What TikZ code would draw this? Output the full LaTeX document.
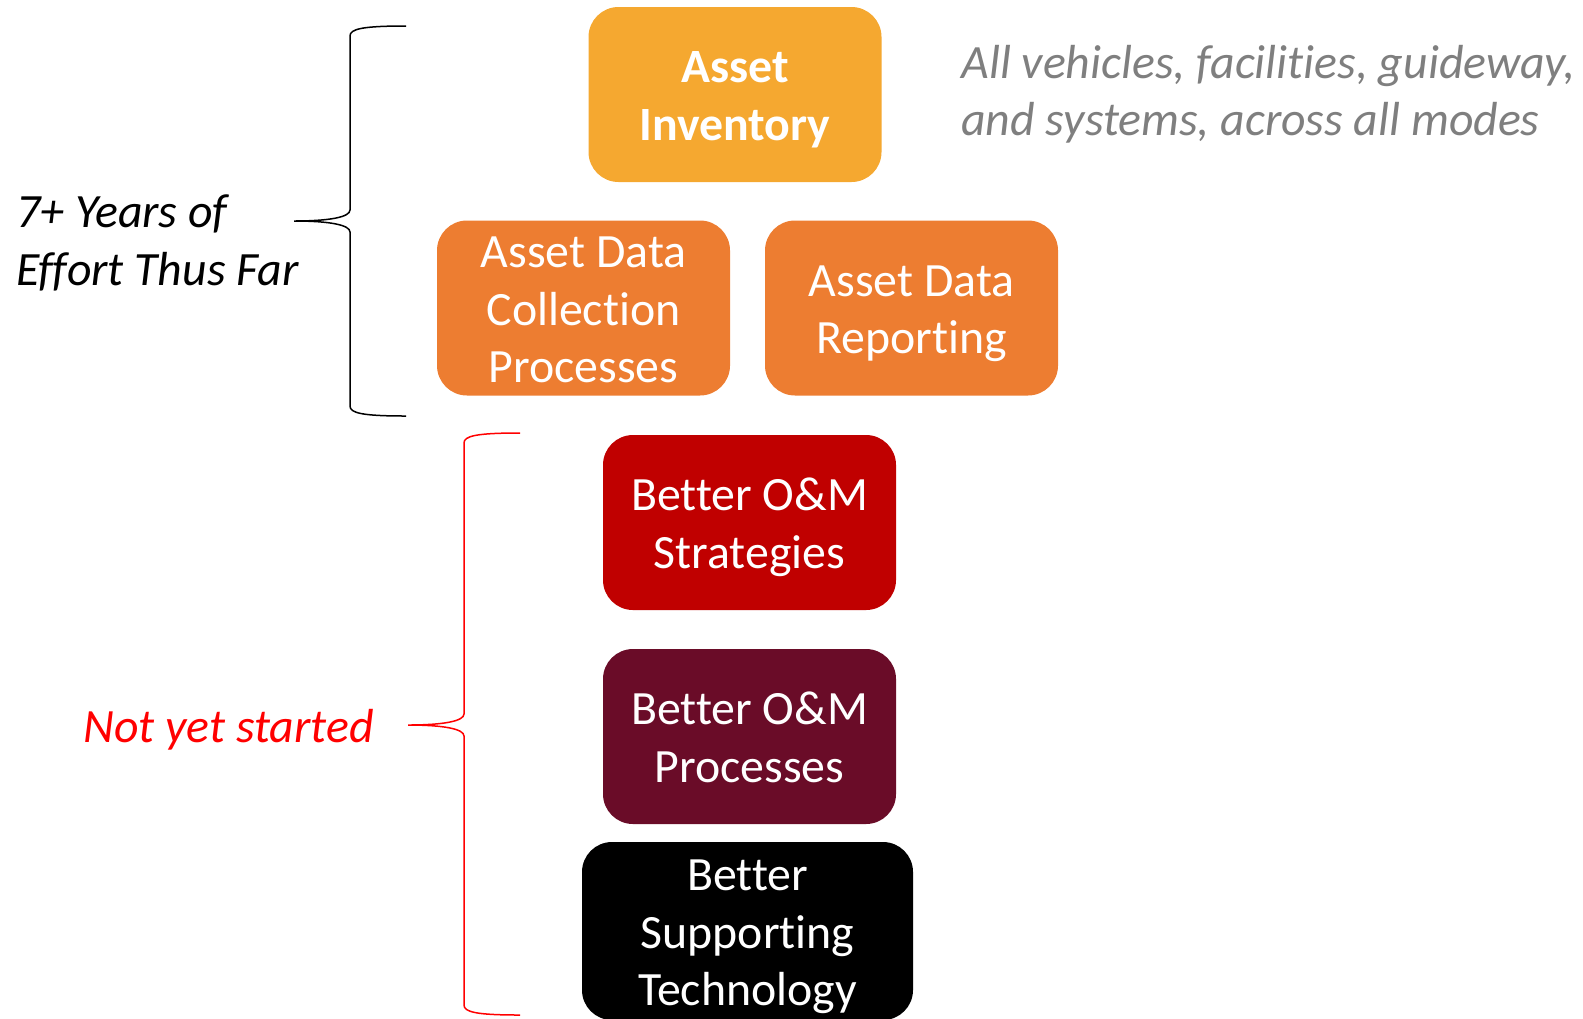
\documentclass[tikz,border=0pt]{standalone}
\usepackage{fontspec}
\setmainfont{Carlito}[Ligatures=NoCommon]
\usepackage{tikz}

\definecolor{invgold}{HTML}{F5A830}
\definecolor{dataorange}{HTML}{ED7D31}
\definecolor{stratred}{HTML}{C00000}
\definecolor{procwine}{HTML}{6A0C28}
\definecolor{notegray}{HTML}{7F7F7F}

% fixed line box for the text in the boxes
\newcommand{\boxtop}{\rule{0pt}{23pt}}
\newcommand{\boxbot}{\rule[-6pt]{0pt}{6pt}}

\begin{document}
\begin{tikzpicture}[x=0.5pt, y=-0.5pt,
    box/.style={rounded corners=15pt, minimum width=146.5pt, minimum height=87.5pt,
        inner sep=0pt, align=center, text=white, font=\fontsize{23.9}{28.7}\selectfont},
    note/.style={anchor=west, align=left, inner sep=0pt, font=\fontsize{23.9}{28.7}\selectfont\itshape}]
    \useasboundingbox (0,0) rectangle (1583,1018);

    % Done so far
    \node[box, fill=invgold, font=\fontsize{23.9}{28.7}\selectfont\bfseries] (inventory) at (735,94.5) {\boxtop Asset\\Inventory\boxbot};
    \node[box, fill=dataorange] (collection) at (583.5,308) {\boxtop Asset Data\\Collection\\Processes\boxbot};
    \node[box, fill=dataorange] (reporting) at (911.5,308) {\boxtop Asset Data\\Reporting\boxbot};

    % Still to do
    \node[box, fill=stratred] (strategies) at (749.5,522.5) {\boxtop Better O\&M\\Strategies\boxbot};
    \node[box, fill=procwine] (processes) at (749.5,736.5) {\boxtop Better O\&M\\Processes\boxbot};
    \node[box, fill=black, minimum width=165.5pt, minimum height=89pt] (technology) at (747.5,931) {\boxtop Better\\Supporting\\Technology\boxbot};

    % Notes
    \node[note, text=notegray] (scope) at (961,94) {All vehicles, facilities, guideway,\\and systems, across all modes};
    \node[note] (effort) at (16,243) {7+ Years of\\Effort Thus Far};
    \node[note, text=red] (notyet) at (83,730) {Not yet started};

    % Braces
    \draw[line width=0.75pt] (406,26) .. controls (362,26) and (350,29) .. (350,36) -- (350,210)
        .. controls (350,217) and (330,221) .. (294,221)
        .. controls (330,221) and (350,225) .. (350,232) -- (350,406)
        .. controls (350,413) and (362,416) .. (406,416);
    \draw[red, line width=0.75pt] (520,433) .. controls (476,433) and (464,436) .. (464,443) -- (464,714)
        .. controls (464,721) and (444,725) .. (408,725)
        .. controls (444,725) and (464,729) .. (464,736) -- (464,1005)
        .. controls (464,1012) and (476,1015) .. (520,1015);
\end{tikzpicture}
\end{document}
